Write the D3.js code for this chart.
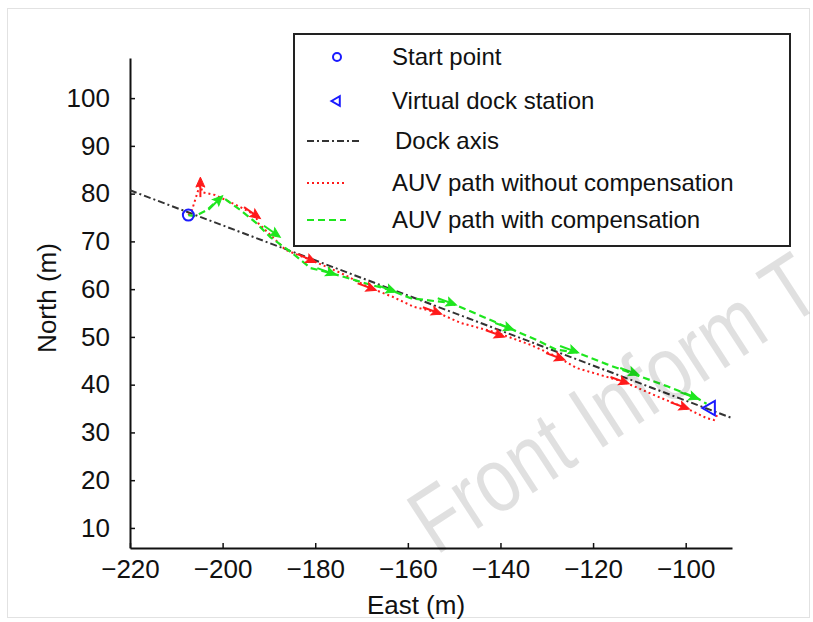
<!DOCTYPE html>
<html>
<head>
<meta charset="utf-8">
<script src="https://cdn.jsdelivr.net/npm/d3@7"></script>
<style>
  body { margin: 0; background: #fff; }
  text { font-family: "Liberation Sans", Arial, sans-serif; fill: #111; }
</style>
</head>
<body>
<svg id="chart"></svg>
<script>
// values
var xTicks = [-220, -200, -180, -160, -140, -120, -100];
var yTicks = [10, 20, 30, 40, 50, 60, 70, 80, 90, 100];

var dockAxisEast = [-220, -90];
var dockAxisNorth = [80.7, 33.0];

var startPoint = [-207.4, 75.5];
var dockStation = [-94.6, 35.1];

var redEast = [-207.4, -206.6, -204.8, -204.4, -201.6, -199.4, -196.2, -192.9, -192.3, -189.2, -186.4, -181.0, -174.5,
  -168.0, -163.3, -158.7, -153.9, -148.5, -140.5, -133.4, -127.3, -123.6, -113.4, -106.3, -100.4, -95.5, -93.9, -93.2];
var redNorth = [75.5, 76.6, 82.2, 80.3, 79.7, 78.7, 77.2, 75.5, 73.8, 70.9, 68.2, 66.1, 63.4,
  60.2, 58.4, 56.3, 55.2, 52.9, 50.8, 48.3, 45.6, 43.5, 40.6, 37.6, 35.3, 33.0, 32.6, 33.6];

var greenEast = [-207.4, -205.9, -203.3, -201.6, -200.1, -196.2, -192.9, -189.7, -185.3, -181.0, -176.7, -168.0, -163.7,
  -159.4, -150.7, -144.2, -138.3, -132.3, -127.9, -123.6, -117.1, -110.6, -104.1, -97.6, -95.5];
var greenNorth = [75.5, 75.3, 76.6, 78.2, 79.3, 76.6, 74.0, 70.9, 67.8, 64.4, 63.4, 60.9, 59.8,
  58.1, 57.1, 54.4, 51.9, 49.4, 47.3, 46.8, 44.3, 42.0, 39.7, 37.2, 36.0];

// heading arrows along the paths: east, north, heading (deg, 0 = east, 90 = north)
var redArrowEast = [-204.8, -192.9, -181.0, -168.0, -153.9, -140.3, -127.3, -113.4, -100.4];
var redArrowNorth = [82.2, 75.5, 66.1, 60.2, 55.2, 50.4, 45.6, 40.6, 35.3];
var redArrowHeading = [90, -35, -25, -20, -20, -20, -20, -20, -20];

var greenArrowEast = [-200.9, -188.6, -176.7, -163.7, -150.7, -138.3, -124.3, -111.3, -98.3];
var greenArrowNorth = [78.7, 71.6, 63.4, 59.8, 57.1, 51.9, 47.1, 42.5, 37.4];
var greenArrowHeading = [45, -35, -20, -20, -20, -20, -20, -20, -20];

var legendLabels = ["Start point", "Virtual dock station", "Dock axis",
  "AUV path without compensation", "AUV path with compensation"];

var width = 813, height = 622;

var svg = d3.select("#chart")
    .attr("width", width)
    .attr("height", height);

svg.append("rect")
    .attr("width", width)
    .attr("height", height)
    .style("fill", "#fff");

// faint frame of the figure
svg.append("rect")
    .attr("x", 7.5).attr("y", 8.5)
    .attr("width", 802).attr("height", 609)
    .style("fill", "none")
    .style("stroke", "#e2e2e2");

var x = d3.scaleLinear().domain([-220, -90]).range([130, 732]);
var y = d3.scaleLinear().domain([5.8, 108.4]).range([548, 58]);

var xAxis = d3.axisBottom(x).tickValues(xTicks).tickSizeInner(-5).tickSizeOuter(0).tickPadding(12);
var yAxis = d3.axisLeft(y).tickValues(yTicks).tickSizeInner(-5).tickSizeOuter(0).tickPadding(20);

var gx = svg.append("g")
    .attr("transform", "translate(0," + y.range()[0] + ")")
    .call(xAxis);
var gy = svg.append("g")
    .attr("transform", "translate(" + x.range()[0] + ",0)")
    .call(yAxis);

[gx, gy].forEach(function(g) {
  g.select(".domain").style("stroke", "#111").style("stroke-width", 2);
  g.selectAll(".tick line").style("stroke", "#111").style("stroke-width", 1.5);
  g.selectAll(".tick text")
      .style("font-family", "'Liberation Sans', Arial, sans-serif")
      .style("font-size", "26px")
      .style("fill", "#111");
});

svg.append("text")
    .attr("x", 416)
    .attr("y", 614)
    .style("text-anchor", "middle")
    .style("font-size", "26px")
    .text("East (m)");

svg.append("text")
    .attr("transform", "translate(56,298) rotate(-90)")
    .style("text-anchor", "middle")
    .style("font-size", "26px")
    .text("North (m)");

var line = d3.line()
    .x(function(d) { return x(d[0]); })
    .y(function(d) { return y(d[1]); });

function zip(a, b) {
  return a.map(function(v, i) { return [v, b[i]]; });
}

svg.append("path")
    .datum(zip(dockAxisEast, dockAxisNorth))
    .attr("d", line)
    .style("fill", "none")
    .style("stroke", "#333")
    .style("stroke-width", 2)
    .style("stroke-dasharray", "7,3,2,3");

svg.append("path")
    .datum(zip(redEast, redNorth))
    .attr("d", line)
    .style("fill", "none")
    .style("stroke", "#ff1a1a")
    .style("stroke-width", 2)
    .style("stroke-dasharray", "2,3");

svg.append("path")
    .datum(zip(greenEast, greenNorth))
    .attr("d", line)
    .style("fill", "none")
    .style("stroke", "#1ee61e")
    .style("stroke-width", 2.2)
    .style("stroke-dasharray", "7,4");

function arrows(east, north, heading, color) {
  var data = east.map(function(e, i) { return [e, north[i], heading[i]]; });
  var g = svg.append("g").selectAll(".arrow")
      .data(data)
    .enter().append("g")
      .attr("class", "arrow")
      .attr("transform", function(d) {
        return "translate(" + x(d[0]) + "," + y(d[1]) + ") rotate(" + (-d[2]) + ")";
      });
  g.append("path")
      .attr("d", "M-14,0L4,0")
      .style("stroke", color)
      .style("stroke-width", 2);
  g.append("path")
      .attr("d", "M6,0L-4,-4.5L-2,0L-4,4.5Z")
      .style("fill", color)
      .style("stroke", color)
      .style("stroke-width", 1);
}
arrows(redArrowEast, redArrowNorth, redArrowHeading, "#ff1a1a");
arrows(greenArrowEast, greenArrowNorth, greenArrowHeading, "#1ee61e");

// markers
svg.append("circle")
    .attr("cx", x(startPoint[0]))
    .attr("cy", y(startPoint[1]))
    .attr("r", 5.5)
    .style("fill", "none")
    .style("stroke", "#1a1aff")
    .style("stroke-width", 2);

var tri = d3.symbol().type(d3.symbolTriangle).size(90);
svg.append("path")
    .attr("d", tri)
    .attr("transform", "translate(" + x(dockStation[0]) + "," + y(dockStation[1]) + ") rotate(-90)")
    .style("fill", "none")
    .style("stroke", "#1a1aff")
    .style("stroke-width", 2);

// legend
var legend = svg.append("g").attr("transform", "translate(294,34)");
legend.append("rect")
    .attr("width", 496)
    .attr("height", 212)
    .style("fill", "#fff")
    .style("stroke", "#222")
    .style("stroke-width", 2);

var rowY = [23, 67, 107, 149, 186];
var textX = [98, 98, 101, 98, 98];

legend.selectAll(".lab")
    .data(legendLabels)
  .enter().append("text")
    .attr("class", "lab")
    .attr("x", function(d, i) { return textX[i]; })
    .attr("y", function(d, i) { return rowY[i]; })
    .attr("dy", "0.35em")
    .style("font-size", "24px")
    .text(function(d) { return d; });

legend.append("circle")
    .attr("cx", 43).attr("cy", rowY[0])
    .attr("r", 4)
    .style("fill", "none")
    .style("stroke", "#1a1aff")
    .style("stroke-width", 2);

legend.append("path")
    .attr("d", d3.symbol().type(d3.symbolTriangle).size(40))
    .attr("transform", "translate(43," + rowY[1] + ") rotate(-90)")
    .style("fill", "none")
    .style("stroke", "#1a1aff")
    .style("stroke-width", 2);

legend.append("line")
    .attr("x1", 13).attr("x2", 66)
    .attr("y1", rowY[2]).attr("y2", rowY[2])
    .style("stroke", "#333")
    .style("stroke-width", 2)
    .style("stroke-dasharray", "7,3,2,3");

legend.append("line")
    .attr("x1", 13).attr("x2", 52)
    .attr("y1", rowY[3]).attr("y2", rowY[3])
    .style("stroke", "#ff1a1a")
    .style("stroke-width", 2)
    .style("stroke-dasharray", "2,3");

legend.append("line")
    .attr("x1", 13).attr("x2", 52)
    .attr("y1", rowY[4]).attr("y2", rowY[4])
    .style("stroke", "#1ee61e")
    .style("stroke-width", 2.2)
    .style("stroke-dasharray", "7,4");

// watermark (condensed, on top)
svg.append("text")
    .attr("transform", "translate(436,556) rotate(-33) scale(0.8,1)")
    .style("font-size", "92px")
    .style("fill", "#000")
    .style("fill-opacity", 0.12)
    .text("Front Inform T");
</script>
</body>
</html>
